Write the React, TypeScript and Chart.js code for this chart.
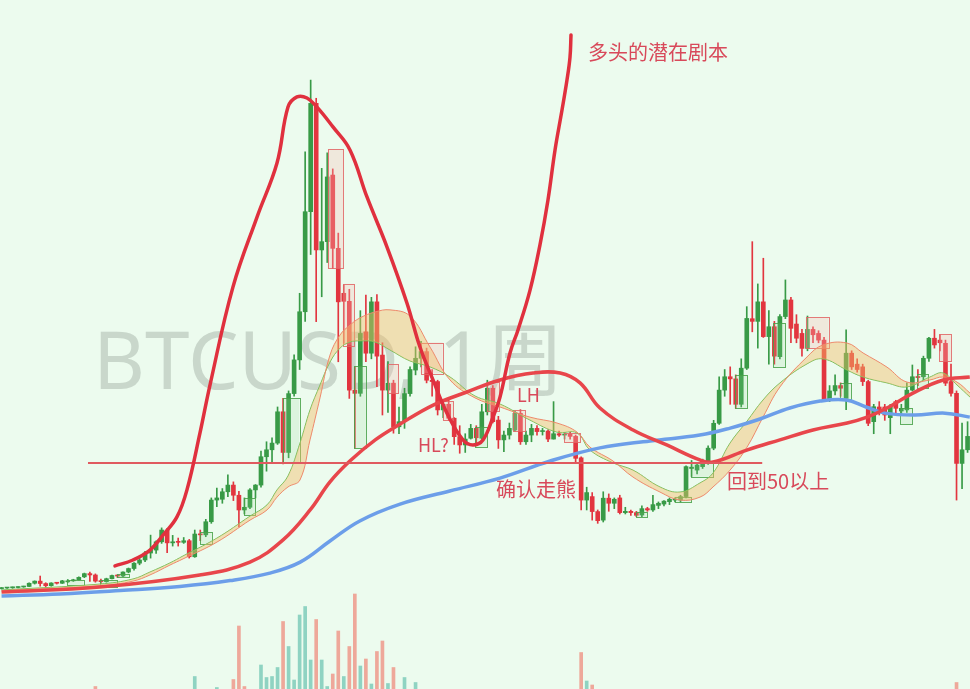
import React, { useEffect, useRef } from 'react';
import { Chart, registerables } from 'chart.js';

Chart.register(...registerables);

// ---------- weekly candles (price in thousand USD), week 0 = first visible week ----------
const opens = [
  0.71, 0.73, 0.74, 0.75, 0.77, 0.79, 0.91, 0.99, 0.90, 0.82,
  0.92, 0.91, 1.00, 1.00, 1.04, 1.15, 1.27, 1.22, 0.99, 0.97,
  1.08, 1.20, 1.18, 1.33, 1.46, 1.66, 1.78, 2.04, 2.15, 2.46,
  2.90, 2.42, 2.46, 2.44, 2.50, 1.90, 2.75, 2.72, 3.21, 4.02,
  4.05, 4.33, 4.58, 4.20, 3.65, 3.75, 4.40, 4.58, 5.64, 5.90,
  6.15, 7.32, 5.80, 8.00, 9.26, 11.06, 14.80, 18.85, 13.37, 13.68,
  16.17, 13.43, 11.75, 11.45, 8.13, 8.01, 10.31, 9.51, 11.43, 9.44,
  8.13, 8.39, 6.76, 6.95, 8.00, 8.88, 9.32, 9.57, 8.50, 8.45,
  7.39, 7.60, 7.08, 6.39, 6.08, 6.33, 6.70, 6.33, 7.32, 8.20,
  7.01, 6.27, 6.45, 6.64, 7.26, 6.20, 6.45, 6.70, 6.58, 6.60,
  6.30, 6.50, 6.45, 6.48, 6.40, 5.60, 4.02, 4.15, 3.59, 3.27,
  4.09, 3.90, 4.10, 3.55, 3.60, 3.55, 3.46, 3.70, 3.65, 3.82,
  3.87, 3.96, 4.02, 4.02, 4.15, 5.20, 5.14, 5.27, 5.45, 5.96,
  6.89, 8.13, 8.63, 8.55, 7.60, 8.95, 10.80, 10.70, 11.43, 10.13,
  10.50, 9.38, 10.88, 11.50, 10.60, 10.25, 9.69, 10.40, 10.25, 10.00,
  7.80, 8.10, 8.30, 7.82, 9.51, 9.10, 9.00, 8.45, 6.95, 7.50,
  7.50, 7.10, 7.70, 7.35, 7.39, 8.13, 8.63, 8.63, 9.32, 10.07,
  10.00, 9.88, 8.45, 8.01, 5.39, 5.90,
];
const highs = [
  0.75, 0.76, 0.77, 0.78, 0.80, 0.93, 1.00, 1.18, 0.93, 0.93,
  0.93, 1.02, 1.05, 1.06, 1.15, 1.29, 1.33, 1.26, 1.07, 1.10,
  1.22, 1.23, 1.34, 1.48, 1.68, 1.85, 2.10, 2.71, 2.50, 2.98,
  2.96, 2.70, 2.60, 2.62, 2.55, 2.90, 2.90, 3.30, 4.10, 4.47,
  4.45, 4.96, 4.70, 4.35, 4.10, 4.45, 4.60, 5.85, 6.20, 6.35,
  7.50, 7.82, 8.10, 9.45, 11.75, 17.04, 19.72, 19.04, 16.42, 17.00,
  16.40, 14.00, 12.06, 11.90, 9.00, 11.10, 11.68, 11.60, 11.70, 9.90,
  9.20, 8.50, 7.50, 8.20, 9.00, 9.75, 9.95, 9.70, 8.90, 8.50,
  7.75, 7.75, 7.10, 6.80, 6.50, 6.85, 6.80, 7.60, 8.50, 8.30,
  7.15, 6.60, 6.90, 7.35, 7.40, 6.60, 6.85, 6.80, 6.70, 6.65,
  7.70, 6.60, 6.55, 6.55, 6.45, 5.64, 4.50, 4.30, 3.65, 4.33,
  4.25, 4.10, 4.20, 3.75, 3.65, 3.60, 3.80, 3.75, 4.20, 3.95,
  4.00, 4.10, 4.10, 4.20, 5.30, 5.50, 5.40, 5.55, 6.05, 7.00,
  8.63, 8.90, 9.00, 8.70, 9.30, 11.25, 13.68, 12.10, 13.06, 11.10,
  10.70, 10.95, 12.25, 11.60, 10.95, 10.40, 10.90, 10.50, 10.35, 10.10,
  8.30, 8.70, 8.40, 10.38, 9.60, 9.30, 9.10, 8.50, 7.60, 7.70,
  7.60, 7.60, 7.75, 7.60, 8.40, 9.07, 8.90, 9.40, 10.10, 10.40,
  10.20, 10.00, 9.10, 8.10, 6.90, 6.95,
];
const lows = [
  0.69, 0.72, 0.72, 0.74, 0.76, 0.78, 0.88, 0.80, 0.75, 0.80,
  0.88, 0.90, 0.94, 0.98, 1.03, 1.12, 0.98, 0.95, 0.89, 0.95,
  1.07, 1.12, 1.16, 1.30, 1.40, 1.60, 1.72, 1.85, 2.03, 2.40,
  2.05, 2.30, 2.30, 2.40, 1.85, 1.88, 2.50, 2.65, 3.15, 3.77,
  3.90, 4.15, 4.00, 3.02, 3.50, 3.70, 4.10, 4.50, 5.10, 5.40,
  6.10, 5.37, 5.60, 7.90, 8.90, 10.70, 13.20, 10.69, 11.62, 12.90,
  12.68, 9.19, 9.88, 7.82, 5.96, 7.90, 9.19, 9.30, 8.26, 7.20,
  7.30, 6.52, 6.50, 6.70, 7.90, 8.70, 9.00, 8.40, 7.90, 7.20,
  7.10, 7.00, 6.10, 5.77, 5.80, 6.30, 6.10, 6.30, 7.20, 6.90,
  5.95, 5.83, 6.30, 6.60, 6.10, 6.10, 6.20, 6.45, 6.45, 6.20,
  6.30, 6.40, 6.30, 6.30, 5.40, 3.65, 3.65, 3.27, 3.15, 3.20,
  3.60, 3.70, 3.50, 3.50, 3.45, 3.40, 3.40, 3.60, 3.60, 3.70,
  3.80, 3.85, 3.95, 3.95, 4.10, 4.90, 5.00, 5.20, 5.35, 5.90,
  6.85, 7.90, 7.60, 7.45, 7.50, 8.90, 10.31, 9.70, 10.10, 9.10,
  9.10, 9.30, 10.80, 9.90, 9.90, 9.40, 9.60, 9.90, 9.90, 7.70,
  7.70, 7.95, 7.90, 7.40, 8.90, 8.80, 8.30, 6.80, 6.50, 7.20,
  7.00, 6.50, 7.20, 7.20, 7.30, 8.10, 8.30, 8.50, 9.20, 9.70,
  9.60, 8.30, 7.90, 4.02, 4.45, 5.80,
];
const closes = [
  0.73, 0.74, 0.75, 0.77, 0.79, 0.91, 0.99, 0.90, 0.82, 0.92,
  0.91, 1.00, 1.00, 1.04, 1.13, 1.27, 1.22, 0.99, 0.97, 1.08,
  1.20, 1.18, 1.33, 1.46, 1.66, 1.78, 2.04, 2.15, 2.46, 2.90,
  2.42, 2.46, 2.44, 2.50, 1.90, 2.75, 2.72, 3.21, 4.02, 4.10,
  4.33, 4.58, 4.20, 3.65, 3.75, 4.40, 4.58, 5.64, 5.90, 6.15,
  7.32, 5.80, 8.00, 9.26, 11.06, 14.80, 18.85, 13.37, 13.68, 16.10,
  13.43, 11.43, 11.45, 8.13, 8.01, 10.25, 9.51, 11.43, 9.40, 8.13,
  8.39, 6.76, 6.95, 8.00, 8.90, 9.32, 9.57, 8.50, 8.45, 7.39,
  7.60, 7.08, 6.39, 6.08, 6.30, 6.70, 6.35, 7.32, 8.20, 6.95,
  6.27, 6.45, 6.70, 7.26, 6.20, 6.45, 6.70, 6.58, 6.60, 6.30,
  6.50, 6.45, 6.48, 6.40, 5.58, 4.02, 4.30, 3.59, 3.25, 4.09,
  3.90, 4.05, 3.55, 3.60, 3.55, 3.45, 3.70, 3.65, 3.85, 3.90,
  3.98, 4.05, 4.05, 4.15, 5.27, 5.25, 5.33, 5.45, 5.96, 6.89,
  8.13, 8.63, 8.55, 7.60, 8.95, 10.81, 10.70, 11.43, 10.13, 10.50,
  9.40, 10.88, 11.50, 10.44, 10.07, 9.69, 10.40, 10.20, 10.00, 7.76,
  8.10, 8.30, 8.20, 9.51, 9.00, 8.90, 8.45, 6.89, 7.51, 7.40,
  7.20, 7.50, 7.45, 7.45, 8.13, 8.63, 8.60, 9.32, 10.07, 9.82,
  9.90, 8.39, 8.01, 5.39, 5.90, 6.40,
];

// ---------- volume (clipped pane at the bottom) ----------
const volWeeks = [17, 35, 39, 42, 43, 44, 47, 48, 49, 50, 51, 52, 53, 54, 55, 56, 57, 58, 59, 60, 61, 62, 63, 64, 65, 66, 67, 68, 69, 70, 71, 73, 75, 105, 106, 107, 173];
const volValues = [105, 125, 103, 119, 226, 105, 148, 123, 125, 143, 235, 185, 118, 248, 265, 158, 239, 158, 105, 130, 216, 125, 185, 290, 146, 160, 110, 175, 196, 111, 143, 123, 113, 173, 116, 108, 113];
const volUp = [0, 1, 1, 0, 0, 0, 1, 1, 1, 1, 0, 1, 1, 1, 1, 1, 0, 1, 1, 0, 0, 1, 0, 0, 1, 0, 1, 0, 0, 1, 0, 1, 1, 0, 1, 0, 0];

// ---------- support band (two thin MAs) ----------
const bandWeeks = [0, 17.83, 23.81, 26.89, 30.51, 32.87, 39.03, 45.01, 48.09, 49.9, 51.89, 54.06, 55.88, 57.69, 59.5, 61.31, 63.12, 64.93, 67.65, 70.37, 73.99, 77.62, 81.24, 85.77, 90.3, 95.73, 100.62, 104.25, 106.6, 110.77, 114.39, 119.28, 122.91, 126.53, 128.89, 131.97, 135.05, 137.94, 141.02, 145.91, 148.81, 153.16, 156.06, 160.4, 164.03, 168.19, 170.55, 173.09, 175.44];
const fastMA = [0.66, 0.88, 1.07, 1.33, 1.67, 1.93, 2.6, 3.42, 3.84, 4.4, 4.92, 6.15, 7.39, 8.32, 9.18, 9.7, 9.93, 9.97, 9.93, 9.63, 9.22, 9.0, 8.62, 7.91, 7.61, 7.01, 6.56, 6.53, 5.89, 5.41, 5.14, 4.51, 4.32, 4.66, 5.03, 6.15, 6.97, 7.76, 8.4, 9.11, 9.3, 8.88, 8.62, 8.4, 8.25, 8.62, 8.77, 8.32, 7.87];
const slowMA = [0.62, 0.81, 0.99, 1.22, 1.59, 1.82, 2.45, 3.27, 3.65, 4.13, 4.51, 4.77, 6.27, 7.84, 9.44, 10.19, 10.56, 10.83, 11.05, 11.13, 10.9, 9.74, 8.51, 7.84, 7.5, 7.12, 6.9, 6.56, 6.0, 5.48, 4.88, 4.32, 4.02, 4.13, 4.51, 5.14, 6.0, 7.12, 8.25, 9.37, 9.82, 9.89, 9.52, 8.99, 8.43, 8.51, 8.62, 8.43, 8.02];

// ---------- 50-week MA (red) and long MA (blue) ----------
const ma50Weeks = [0, 17.8, 35.9, 45.0, 51.0, 55.9, 59.5, 63.1, 67.7, 72.2, 78.2, 84.3, 90.3, 96.3, 101.2, 104.8, 108.4, 114.4, 120.5, 126.5, 128.9, 135.0, 141.0, 147.0, 153.2, 156.8, 160.4, 165.1, 170.6, 175.4];
const ma50 = [0.58, 0.77, 1.22, 1.7, 2.53, 3.65, 4.7, 5.48, 6.27, 6.86, 7.57, 8.06, 8.51, 8.77, 8.77, 8.4, 7.46, 6.64, 6.08, 5.52, 5.44, 5.89, 6.27, 6.64, 6.9, 7.12, 7.46, 8.02, 8.51, 8.62];
const longWeeks = [0, 10.6, 21.5, 32.3, 41.4, 48.6, 54.1, 59.5, 64.9, 72.2, 81.2, 90.3, 99.4, 108.4, 117.5, 126.5, 132.0, 137.4, 142.8, 148.3, 153.0, 156.6, 160.0, 165.5, 170.9, 175.4];
const longMA = [0.43, 0.51, 0.64, 0.79, 1.01, 1.29, 1.7, 2.49, 3.24, 3.87, 4.36, 4.84, 5.48, 5.97, 6.23, 6.45, 6.71, 7.05, 7.46, 7.72, 7.76, 7.5, 7.27, 7.2, 7.27, 7.12];

// ---------- hand-drawn scenario curve ----------
const handWeeks = [20.55, 23.81, 26.89, 29.25, 31.78, 33.59, 35.95, 37.76, 41.93, 46.28, 49.9, 51.89, 53.52, 55.33, 57.15, 60.04, 63.12, 66.2, 69.83, 73.45, 75.8, 78.16, 80.69, 83.59, 85.4, 87.22, 89.03, 90.3, 92.11, 93.56, 95.74, 97.54, 98.99, 100.26, 101.53, 102.43, 102.98, 103.16];
const handValues = [1.56, 1.78, 2.15, 2.71, 3.39, 4.4, 6.53, 8.32, 11.99, 14.6, 16.62, 18.71, 19.09, 19.05, 18.71, 17.97, 17.11, 15.35, 13.48, 11.38, 9.74, 8.51, 7.27, 6.27, 6.08, 6.27, 7.12, 7.87, 9.52, 10.38, 11.87, 13.56, 15.24, 17.1, 18.6, 19.72, 20.58, 21.41];

// ---------- horizontal level ----------
const levelWeeks = [15.66, 137.8];
const levelPrice = 5.41;

// ---------- highlight boxes ----------
const boxStart = [11.8, 17.8, 20.9, 35.9, 44.0, 50.9, 63.9, 85.8, 114.9, 122.0, 124.9, 132.9, 139.8, 151.8, 162.8, 165.9, 59.1, 61.9, 70.0, 75.9, 79.9, 88.0, 92.7, 101.9, 145.7, 169.9];
const boxEnd = [14.8, 20.9, 23.0, 38.1, 46.0, 53.9, 66.0, 88.0, 116.9, 124.9, 128.9, 135.0, 141.9, 153.8, 164.9, 167.9, 61.9, 63.9, 71.9, 79.9, 81.8, 90.1, 94.9, 104.8, 149.8, 172.0];
const boxTop = [1.03, 1.03, 1.26, 2.81, 4.09, 7.82, 9.03, 6.76, 3.59, 4.15, 5.45, 8.7, 10.63, 8.39, 7.45, 8.73, 17.13, 12.1, 9.1, 9.91, 7.72, 8.42, 7.39, 6.51, 10.85, 10.21];
const boxBottom = [0.84, 0.77, 1.13, 2.38, 3.46, 5.39, 5.96, 6.01, 3.39, 3.96, 4.89, 7.45, 9.0, 7.8, 6.86, 8.21, 12.68, 9.8, 8.01, 8.76, 7.01, 7.32, 6.6, 6.17, 9.69, 9.19];
const boxBull = [1, 1, 1, 1, 1, 1, 1, 1, 1, 1, 1, 1, 1, 1, 1, 1, 0, 0, 0, 0, 0, 0, 0, 0, 0, 0];

// ---------- annotations ----------
const labelTexts = ['多头的潜在剧本', 'HL?', 'LH', '确认走熊', '回到50以上'];
const labelWeeks = [106.24, 75.44, 93.38, 89.57, 131.42];
const labelPrices = [20.77, 6.08, 7.95, 4.43, 4.73];
const labelSizes = [20, 18, 18, 20, 20];
const watermark = 'BTCUSD, 1周';

// view window
const X_MIN = -0.28;
const X_MAX = 175.44;
const Y_MIN = -3.043;
const Y_MAX = 22.714;
const VOL_MIN = 100;
const VOL_MAX = 1478;

const BG = '#ecfbee';
const UP = '#389a46';
const DOWN = '#e2353f';
const LABEL = '#d8495a';

export default function App() {
  const ref = useRef<HTMLCanvasElement>(null);

  useEffect(() => {
    const canvas = ref.current;
    if (!canvas) return;
    const idx = opens.map((_, i) => i);
    const colors = idx.map((i) => (closes[i] >= opens[i] ? UP : DOWN));
    const wickData = idx.map((i) => ({ x: i, y: [lows[i], highs[i]] }));
    const bodyData = idx.map((i) => ({ x: i, y: [opens[i], closes[i]] }));
    const volData = volWeeks.map((w, i) => ({ x: w, y: [0, volValues[i]] }));
    const volColors = volUp.map((u) => (u ? '#8fd3c2' : '#eea89a'));
    const pts = (xs: number[], ys: number[]) => xs.map((x, i) => ({ x, y: ys[i] }));

    const BODY_INDEX = 2;

    const bgPlugin = {
      id: 'bg',
      beforeDraw(chart: any) {
        const c = chart.ctx;
        c.save();
        c.fillStyle = BG;
        c.fillRect(0, 0, chart.width, chart.height);
        c.restore();
      },
    };

    const watermarkPlugin = {
      id: 'wm',
      beforeDatasetsDraw(chart: any) {
        const c = chart.ctx;
        const a = chart.chartArea;
        c.save();
        c.fillStyle = 'rgba(120,132,122,0.30)';
        c.font = '80px "Noto Sans", "Noto Sans CJK SC", sans-serif';
        c.textBaseline = 'alphabetic';
        c.textAlign = 'left';
        c.fillText(watermark, a.left + 93, a.top + 389);
        c.restore();
      },
    };

    const boxPlugin = {
      id: 'boxes',
      afterDatasetDraw(chart: any, args: any) {
        if (args.index !== BODY_INDEX) return;
        const c = chart.ctx;
        const xs = chart.scales.x;
        const ys = chart.scales.y;
        c.save();
        boxStart.forEach((s, i) => {
          const x1 = xs.getPixelForValue(s);
          const x2 = xs.getPixelForValue(boxEnd[i]);
          const y1 = ys.getPixelForValue(boxTop[i]);
          const y2 = ys.getPixelForValue(boxBottom[i]);
          c.fillStyle = boxBull[i] ? 'rgba(150,215,150,0.18)' : 'rgba(245,190,180,0.30)';
          c.strokeStyle = boxBull[i] ? 'rgba(70,160,70,0.85)' : 'rgba(225,100,100,0.85)';
          c.lineWidth = 1;
          c.fillRect(x1, y1, x2 - x1, y2 - y1);
          c.strokeRect(Math.round(x1) + 0.5, Math.round(y1) + 0.5, Math.round(x2 - x1), Math.round(y2 - y1));
        });
        c.restore();
      },
    };

    const labelPlugin = {
      id: 'labels',
      afterDatasetsDraw(chart: any) {
        const c = chart.ctx;
        const xs = chart.scales.x;
        const ys = chart.scales.y;
        c.save();
        c.fillStyle = LABEL;
        c.textBaseline = 'middle';
        c.textAlign = 'left';
        labelTexts.forEach((t, i) => {
          c.font = `${labelSizes[i]}px "Noto Sans CJK SC", "Noto Sans", sans-serif`;
          c.fillText(t, xs.getPixelForValue(labelWeeks[i]), ys.getPixelForValue(labelPrices[i]));
        });
        c.restore();
      },
    };

    const chart = new Chart(canvas, {
      type: 'line',
      data: {
        datasets: [
          {
            type: 'bar',
            label: 'volume',
            data: volData as any,
            yAxisID: 'yv',
            backgroundColor: volColors,
            barThickness: 3,
            grouped: false,
            order: 20,
          } as any,
          {
            type: 'bar',
            label: 'wick',
            data: wickData as any,
            backgroundColor: colors,
            barThickness: 1,
            grouped: false,
            order: 12,
          } as any,
          {
            type: 'bar',
            label: 'body',
            data: bodyData as any,
            backgroundColor: colors,
            barThickness: 4,
            minBarLength: 1,
            grouped: false,
            order: 11,
          } as any,
          {
            type: 'line',
            label: 'fast',
            data: pts(bandWeeks, fastMA),
            borderColor: '#6cbf5c',
            borderWidth: 1,
            pointRadius: 0,
            tension: 0.4,
            fill: false,
            order: 9,
          },
          {
            type: 'line',
            label: 'slow',
            data: pts(bandWeeks, slowMA),
            borderColor: '#ee8a6c',
            borderWidth: 1,
            pointRadius: 0,
            tension: 0.4,
            fill: '-1',
            backgroundColor: 'rgba(243,188,105,0.45)',
            order: 8,
          },
          {
            type: 'line',
            label: 'long',
            data: pts(longWeeks, longMA),
            borderColor: '#6c9ee9',
            borderWidth: 3.5,
            pointRadius: 0,
            tension: 0.4,
            fill: false,
            order: 7,
          },
          {
            type: 'line',
            label: 'ma50',
            data: pts(ma50Weeks, ma50),
            borderColor: '#e8464b',
            borderWidth: 3.5,
            pointRadius: 0,
            tension: 0.4,
            fill: false,
            order: 6,
          },
          {
            type: 'line',
            label: 'level',
            data: pts(levelWeeks, [levelPrice, levelPrice]),
            borderColor: '#e05a5f',
            borderWidth: 2,
            pointRadius: 0,
            tension: 0,
            fill: false,
            order: 5,
          },
          {
            type: 'line',
            label: 'scenario',
            data: pts(handWeeks, handValues),
            borderColor: '#e0303e',
            borderWidth: 3.5,
            pointRadius: 0,
            tension: 0.4,
            fill: false,
            borderCapStyle: 'round',
            borderJoinStyle: 'round',
            order: 1,
          },
        ],
      },
      options: {
        responsive: false,
        maintainAspectRatio: false,
        animation: false,
        devicePixelRatio: 1,
        events: [],
        layout: { padding: 0 },
        plugins: {
          legend: { display: false },
          tooltip: { enabled: false },
          title: { display: false },
        },
        scales: {
          x: { type: 'linear', min: X_MIN, max: X_MAX, display: false, offset: false },
          y: { type: 'linear', min: Y_MIN, max: Y_MAX, display: false },
          yv: { type: 'linear', min: VOL_MIN, max: VOL_MAX, display: false },
        },
      } as any,
      plugins: [bgPlugin, watermarkPlugin, boxPlugin, labelPlugin],
    });
    return () => chart.destroy();
  }, []);

  return (
    <div style={{ position: 'absolute', left: 0, top: 0, width: 970, height: 689, background: BG }}>
      <canvas ref={ref} width={970} height={689} style={{ display: 'block' }} />
    </div>
  );
}
